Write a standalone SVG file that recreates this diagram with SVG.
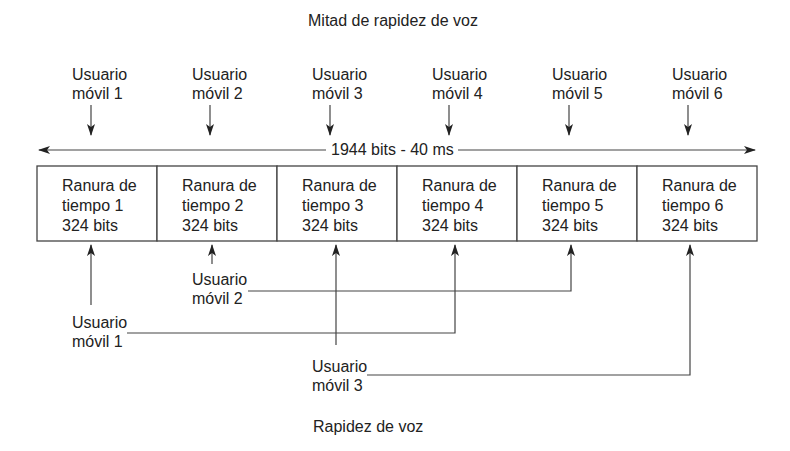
<svg xmlns="http://www.w3.org/2000/svg" width="790" height="451" viewBox="0 0 790 451">
<style>
text{font-family:"Liberation Sans",Arial,sans-serif;font-size:16px;fill:#222}
.ln{stroke:#444;stroke-width:1.2;fill:none}
.bx{stroke:#444;stroke-width:1.3;fill:#fff}
</style>
<defs>
<marker id="ah" viewBox="0 0 12 8" refX="11" refY="4" markerWidth="12" markerHeight="8" markerUnits="userSpaceOnUse" orient="auto">
<path d="M0,0 L12,4 L0,8 L3,4 Z" fill="#222"/>
</marker>
</defs>
<rect width="790" height="451" fill="#fff"/>
<text x="308" y="26">Mitad de rapidez de voz</text>
<g id="top-users">
<g id="tu1"><text x="72" y="80">Usuario</text><text x="72" y="99">móvil 1</text></g>
<g id="tu2"><text x="192" y="80">Usuario</text><text x="192" y="99">móvil 2</text></g>
<g id="tu3"><text x="312" y="80">Usuario</text><text x="312" y="99">móvil 3</text></g>
<g id="tu4"><text x="432" y="80">Usuario</text><text x="432" y="99">móvil 4</text></g>
<g id="tu5"><text x="552" y="80">Usuario</text><text x="552" y="99">móvil 5</text></g>
<g id="tu6"><text x="672" y="80">Usuario</text><text x="672" y="99">móvil 6</text></g>
</g>
<g id="frame">
<g id="slot1"><rect class="bx" x="37" y="166" width="120" height="75"/><text x="62" y="191">Ranura de</text><text x="62" y="211">tiempo 1</text><text x="62" y="231">324 bits</text></g>
<g id="slot2"><rect class="bx" x="157" y="166" width="120" height="75"/><text x="182" y="191">Ranura de</text><text x="182" y="211">tiempo 2</text><text x="182" y="231">324 bits</text></g>
<g id="slot3"><rect class="bx" x="277" y="166" width="120" height="75"/><text x="302" y="191">Ranura de</text><text x="302" y="211">tiempo 3</text><text x="302" y="231">324 bits</text></g>
<g id="slot4"><rect class="bx" x="397" y="166" width="120" height="75"/><text x="422" y="191">Ranura de</text><text x="422" y="211">tiempo 4</text><text x="422" y="231">324 bits</text></g>
<g id="slot5"><rect class="bx" x="517" y="166" width="120" height="75"/><text x="542" y="191">Ranura de</text><text x="542" y="211">tiempo 5</text><text x="542" y="231">324 bits</text></g>
<g id="slot6"><rect class="bx" x="637" y="166" width="120" height="75"/><text x="662" y="191">Ranura de</text><text x="662" y="211">tiempo 6</text><text x="662" y="231">324 bits</text></g>
</g>
<g id="bottom-users">
<g id="bu1"><text x="72" y="328">Usuario</text><text x="72" y="347">móvil 1</text></g>
<g id="bu2"><text x="192" y="285">Usuario</text><text x="192" y="304">móvil 2</text></g>
<g id="bu3"><text x="312" y="372">Usuario</text><text x="312" y="391">móvil 3</text></g>
</g>
<text x="313" y="432">Rapidez de voz</text>
<g id="connectors">
<line class="ln" x1="91" y1="105" x2="91" y2="135" marker-end="url(#ah)"/>
<line class="ln" x1="210" y1="105" x2="210" y2="135" marker-end="url(#ah)"/>
<line class="ln" x1="330" y1="105" x2="330" y2="135" marker-end="url(#ah)"/>
<line class="ln" x1="449" y1="105" x2="449" y2="135" marker-end="url(#ah)"/>
<line class="ln" x1="569" y1="105" x2="569" y2="135" marker-end="url(#ah)"/>
<line class="ln" x1="688" y1="105" x2="688" y2="135" marker-end="url(#ah)"/>
<line class="ln" x1="326" y1="150" x2="39" y2="150" marker-end="url(#ah)"/>
<line class="ln" x1="458" y1="150" x2="755" y2="150" marker-end="url(#ah)"/>
<text x="331" y="155">1944 bits - 40 ms</text>
<line class="ln" x1="91" y1="305" x2="91" y2="245" marker-end="url(#ah)"/>
<polyline class="ln" points="127,333 455,333 455,245" marker-end="url(#ah)"/>
<line class="ln" x1="212" y1="264" x2="212" y2="245" marker-end="url(#ah)"/>
<polyline class="ln" points="248,291 571,291 571,245" marker-end="url(#ah)"/>
<line class="ln" x1="336" y1="345" x2="336" y2="245" marker-end="url(#ah)"/>
<polyline class="ln" points="367,375 690,375 690,245" marker-end="url(#ah)"/>
</g>
</svg>
